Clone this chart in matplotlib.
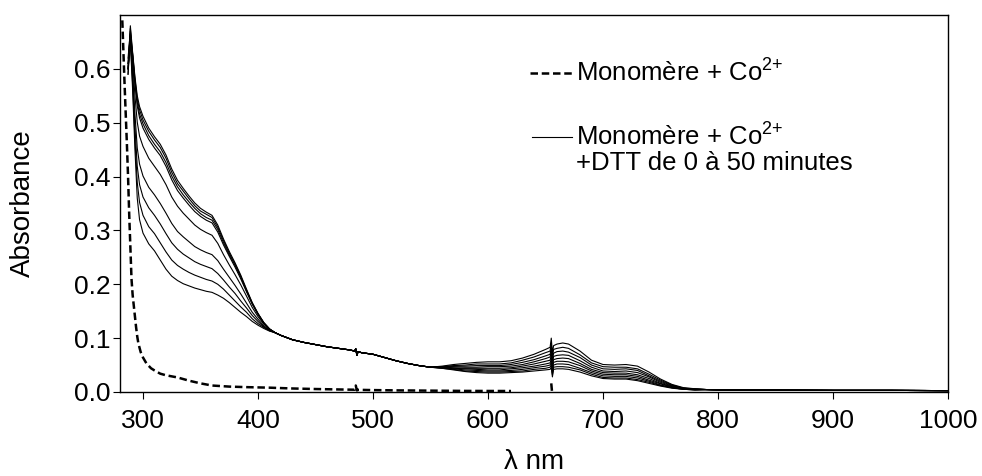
import matplotlib.pyplot as plt

plt.rcParams['font.family'] = ['Liberation Sans', 'DejaVu Sans']
plt.rcParams['mathtext.fontset'] = 'custom'
plt.rcParams['mathtext.rm'] = 'Liberation Sans'
plt.rcParams['mathtext.it'] = 'Liberation Sans:italic'

nan = float('nan')

# Monomère + Co2+ (sans DTT)
wl_ref = [282, 284, 286, 287, 288, 289, 290, 291, 292, 293, 294, 295, 296, 298, 300,
          303, 307, 310, 315, 320, 330, 340, 350, 360, 375, 390, 410, 430, 450, 470,
          484, 485, 486, 487, 500, 520, 550, 580, 620, 630, 655, 656]
abs_ref = [0.69, 0.57, 0.46, 0.40, 0.33, 0.27, 0.21, 0.18, 0.16, 0.14, 0.12, 0.103, 0.090, 0.074, 0.064,
           0.053, 0.044, 0.040, 0.034, 0.031, 0.027, 0.021, 0.016, 0.012, 0.010, 0.009, 0.008, 0.0065, 0.0055, 0.0047,
           0.0042, 0.012, 0.003, 0.004, 0.0035, 0.003, 0.0025, 0.002, 0.0018, nan, 0.016, -0.008]

# Monomère + Co2+ + DTT, 0 à 50 minutes : région UV
wl_uv = [287, 289, 291, 293, 295, 297, 300, 305, 310, 315, 320, 325, 330, 335, 340,
         345, 350, 355, 360, 365, 370, 375, 380, 385, 390, 395, 400, 405, 410]
abs_uv = [
    [0.60, 0.68, 0.630, 0.585, 0.550, 0.530, 0.512, 0.490, 0.474, 0.460, 0.440, 0.414, 0.393, 0.378, 0.364,
     0.351, 0.341, 0.334, 0.328, 0.310, 0.284, 0.261, 0.240, 0.217, 0.191, 0.166, 0.146, 0.129, 0.117],
    [0.61, 0.665, 0.628, 0.581, 0.544, 0.524, 0.505, 0.484, 0.468, 0.454, 0.434, 0.408, 0.387, 0.373, 0.359,
     0.346, 0.336, 0.330, 0.324, 0.306, 0.281, 0.258, 0.238, 0.215, 0.189, 0.165, 0.145, 0.129, 0.117],
    [0.59, 0.675, 0.625, 0.576, 0.538, 0.516, 0.498, 0.476, 0.460, 0.446, 0.426, 0.401, 0.381, 0.366, 0.353,
     0.341, 0.331, 0.324, 0.319, 0.302, 0.277, 0.255, 0.235, 0.213, 0.188, 0.164, 0.145, 0.128, 0.117],
    [0.60, 0.66, 0.623, 0.572, 0.531, 0.509, 0.490, 0.469, 0.453, 0.439, 0.419, 0.394, 0.374, 0.360, 0.347,
     0.335, 0.326, 0.319, 0.314, 0.297, 0.273, 0.252, 0.232, 0.210, 0.186, 0.163, 0.144, 0.128, 0.117],
    [0.62, 0.67, 0.612, 0.550, 0.501, 0.475, 0.456, 0.434, 0.419, 0.404, 0.385, 0.362, 0.345, 0.332, 0.321,
     0.310, 0.302, 0.296, 0.291, 0.276, 0.255, 0.236, 0.218, 0.199, 0.178, 0.157, 0.140, 0.126, 0.116],
    [0.60, 0.655, 0.594, 0.516, 0.453, 0.423, 0.401, 0.380, 0.366, 0.350, 0.332, 0.313, 0.298, 0.288, 0.279,
     0.270, 0.264, 0.259, 0.255, 0.244, 0.228, 0.213, 0.198, 0.182, 0.165, 0.148, 0.135, 0.123, 0.115],
    [0.61, 0.665, 0.582, 0.492, 0.419, 0.385, 0.362, 0.342, 0.328, 0.312, 0.294, 0.277, 0.265, 0.256, 0.249,
     0.242, 0.237, 0.233, 0.229, 0.220, 0.208, 0.195, 0.183, 0.169, 0.156, 0.142, 0.131, 0.121, 0.114],
    [0.59, 0.66, 0.571, 0.470, 0.389, 0.352, 0.328, 0.307, 0.294, 0.277, 0.260, 0.245, 0.235, 0.228, 0.222,
     0.217, 0.213, 0.209, 0.206, 0.200, 0.191, 0.180, 0.169, 0.158, 0.148, 0.136, 0.127, 0.120, 0.114],
    [0.60, 0.65, 0.560, 0.450, 0.360, 0.320, 0.295, 0.275, 0.262, 0.245, 0.228, 0.215, 0.207, 0.201, 0.197,
     0.193, 0.190, 0.187, 0.185, 0.180, 0.174, 0.166, 0.157, 0.148, 0.140, 0.131, 0.124, 0.118, 0.113],
]

# partie commune a toutes les courbes
wl_mid = [415, 420, 430, 440, 450, 460, 470, 480, 484, 485, 486, 487, 490, 500, 510, 520, 530, 540, 550]
abs_mid = [0.110, 0.105, 0.097, 0.092, 0.088, 0.084, 0.081, 0.078, 0.076, 0.080, 0.068, 0.075, 0.073,
           0.070, 0.064, 0.058, 0.053, 0.049, 0.046]

# région visible
wl_vis = [560, 570, 580, 590, 600, 610, 620, 630, 640, 650, 654, 655, 656, 657,
          660, 665, 670, 680, 690, 700, 710, 720, 730, 740, 750, 760, 770, 780]
abs_vis = [
    [0.048, 0.051, 0.053, 0.055, 0.056, 0.056, 0.058, 0.063, 0.070, 0.079, 0.083, 0.100, 0.072, 0.086,
     0.089, 0.091, 0.089, 0.076, 0.059, 0.051, 0.050, 0.051, 0.048, 0.037, 0.024, 0.014, 0.008, 0.006],
    [0.047, 0.049, 0.050, 0.052, 0.052, 0.052, 0.054, 0.059, 0.065, 0.073, 0.076, 0.091, 0.065, 0.079,
     0.081, 0.083, 0.081, 0.069, 0.054, 0.047, 0.046, 0.046, 0.043, 0.033, 0.022, 0.013, 0.007, 0.006],
    [0.047, 0.048, 0.048, 0.049, 0.049, 0.049, 0.051, 0.055, 0.060, 0.067, 0.070, 0.083, 0.058, 0.072,
     0.075, 0.076, 0.074, 0.064, 0.050, 0.043, 0.042, 0.043, 0.040, 0.030, 0.020, 0.012, 0.007, 0.005],
    [0.046, 0.047, 0.046, 0.046, 0.047, 0.047, 0.048, 0.051, 0.056, 0.062, 0.065, 0.076, 0.052, 0.066,
     0.068, 0.069, 0.068, 0.058, 0.046, 0.039, 0.038, 0.039, 0.036, 0.028, 0.018, 0.011, 0.007, 0.005],
    [0.046, 0.045, 0.044, 0.044, 0.044, 0.044, 0.045, 0.048, 0.052, 0.057, 0.059, 0.069, 0.046, 0.060,
     0.062, 0.063, 0.062, 0.053, 0.042, 0.036, 0.035, 0.035, 0.032, 0.025, 0.016, 0.010, 0.006, 0.005],
    [0.045, 0.044, 0.043, 0.042, 0.041, 0.041, 0.043, 0.045, 0.048, 0.052, 0.054, 0.062, 0.041, 0.055,
     0.057, 0.057, 0.056, 0.049, 0.039, 0.033, 0.032, 0.032, 0.029, 0.022, 0.015, 0.009, 0.006, 0.004],
    [0.045, 0.043, 0.041, 0.040, 0.039, 0.039, 0.040, 0.042, 0.045, 0.048, 0.050, 0.056, 0.036, 0.050,
     0.052, 0.052, 0.051, 0.044, 0.036, 0.030, 0.029, 0.029, 0.026, 0.020, 0.013, 0.008, 0.005, 0.004],
    [0.044, 0.042, 0.039, 0.038, 0.037, 0.037, 0.038, 0.039, 0.042, 0.044, 0.046, 0.051, 0.032, 0.046,
     0.047, 0.047, 0.046, 0.041, 0.033, 0.027, 0.026, 0.026, 0.023, 0.018, 0.012, 0.008, 0.005, 0.004],
    [0.044, 0.041, 0.038, 0.036, 0.035, 0.035, 0.036, 0.037, 0.039, 0.041, 0.042, 0.046, 0.028, 0.042,
     0.043, 0.043, 0.042, 0.037, 0.030, 0.025, 0.024, 0.024, 0.021, 0.016, 0.011, 0.007, 0.005, 0.004],
]

# proche IR, commun
wl_nir = [790, 800, 850, 900, 950, 1000]
abs_nir = [0.0045, 0.004, 0.0035, 0.003, 0.003, 0.0025]

fig = plt.figure(figsize=(9.82, 4.76), dpi=100)
ax = fig.add_axes([0.1222, 0.1765, 0.8432, 0.7920])

# spectres avec DTT
for uv, vis in zip(abs_uv, abs_vis):
    wl = wl_uv + wl_mid + wl_vis + wl_nir
    a = uv + abs_mid + vis + abs_nir
    ax.plot(wl, a, color='black', lw=0.8)

# spectre de reference en pointilles
ax.plot(wl_ref, abs_ref, color='black', lw=1.8, linestyle=(0, (3, 1.5)))

ax.set_xlim(280, 1000)
ax.set_ylim(0, 0.70)
ax.set_xticks(range(300, 1001, 100))
ax.set_yticks([0.0, 0.1, 0.2, 0.3, 0.4, 0.5, 0.6])
ax.set_yticklabels(['0.0', '0.1', '0.2', '0.3', '0.4', '0.5', '0.6'])
ax.tick_params(direction='out', length=5, width=0.8, labelsize=19, top=False, right=False)
ax.tick_params(axis='x', pad=7)
ax.tick_params(axis='y', pad=2)
for s in ax.spines.values():
    s.set_linewidth(1.0)

ax.set_xlabel('λ nm', fontsize=20)
ax.set_ylabel('Absorbance', fontsize=20)
ax.xaxis.set_label_coords(0.5, -0.152)
ax.yaxis.set_label_coords(-0.101, 0.5)

# legende
tr = ax.transAxes
ax.plot([0.495, 0.546], [0.847, 0.847], color='black', lw=1.8, linestyle=(0, (3, 1.5)),
        transform=tr, clip_on=False)
ax.plot([0.498, 0.546], [0.676, 0.676], color='black', lw=0.8, transform=tr, clip_on=False)
ax.text(0.551, 0.847, 'Monomère + Co$^{2{+}}$', fontsize=18.5, va='center', transform=tr)
ax.text(0.551, 0.676, 'Monomère + Co$^{2{+}}$', fontsize=18.5, va='center', transform=tr)
ax.text(0.551, 0.607, '+DTT de 0 à 50 minutes', fontsize=18.5, va='center', transform=tr)

plt.savefig('out.png', dpi=100)
